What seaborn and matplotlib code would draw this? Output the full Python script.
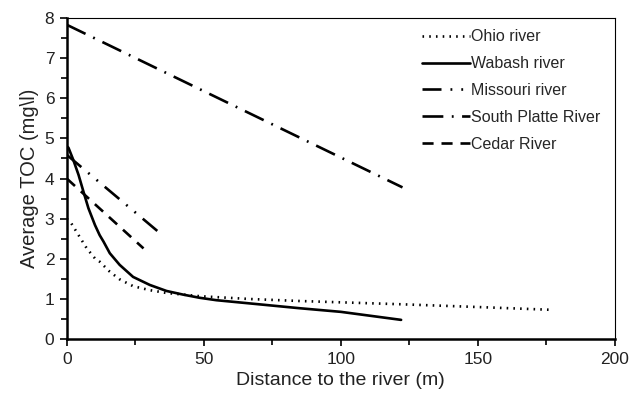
import numpy as np
import pandas as pd
import seaborn as sns
import matplotlib.pyplot as plt
from matplotlib.ticker import MultipleLocator

# values
rivers = ["Ohio river", "Wabash river", "Missouri river", "South Platte River", "Cedar River"]

ohio_x = [0, 1.6, 4.3, 7.3, 10.3, 12, 15.7, 19.3, 24.2, 30.3, 36.4, 48.5, 66.8, 85, 121.5, 150, 177]
ohio_y = [3.0, 2.89, 2.59, 2.26, 2.01, 1.93, 1.68, 1.49, 1.32, 1.22, 1.15, 1.07, 1.0, 0.95, 0.87, 0.8, 0.73]

wabash_x = [0, 0.6, 2.4, 4.3, 6.1, 7.9, 10.3, 12, 13.4, 15.7, 19.3, 24.2, 30.3, 36.4, 42.4,
            48.5, 54.6, 66.8, 85, 100, 122]
wabash_y = [4.8, 4.77, 4.46, 4.09, 3.67, 3.26, 2.84, 2.59, 2.43, 2.14, 1.85, 1.55, 1.35, 1.2, 1.11,
            1.03, 0.97, 0.89, 0.77, 0.68, 0.48]

missouri_x = [0, 34]
missouri_y = [4.59, 2.64]

platte_x = [0, 122.5]
platte_y = [7.83, 3.78]

cedar_x = [0, 28]
cedar_y = [4.0, 2.26]

frames = []
for name, xs, ys in zip(rivers,
                        [ohio_x, wabash_x, missouri_x, platte_x, cedar_x],
                        [ohio_y, wabash_y, missouri_y, platte_y, cedar_y]):
    frames.append(pd.DataFrame({"dist": xs, "toc": ys, "river": name}))
df = pd.concat(frames, ignore_index=True)

sns.set_style("ticks")
plt.rcParams["font.family"] = ["Liberation Sans", "DejaVu Sans"]

fig = plt.figure(figsize=(6.3, 3.99), dpi=100)
ax = fig.add_axes([0.106, 0.150, 0.870, 0.805])

dashes = {
    "Ohio river": (0.6, 1.95),
    "Wabash river": "",
    "Missouri river": (7.2, 3.4, 0.7, 3.4, 0.7, 3.4),
    "South Platte River": (7.9, 3.2, 0.7, 3.2),
    "Cedar River": (4.2, 3.0),
}
sns.lineplot(data=df, x="dist", y="toc", style="river", style_order=rivers,
             dashes=dashes, color="black", linewidth=1.9, sort=False,
             estimator=None, ax=ax)

ax.set_xlim(0, 200)
ax.set_ylim(0, 8)
ax.xaxis.set_major_locator(MultipleLocator(50))
ax.xaxis.set_minor_locator(MultipleLocator(25))
ax.yaxis.set_major_locator(MultipleLocator(1))
ax.yaxis.set_minor_locator(MultipleLocator(0.5))
ax.tick_params(which="both", direction="out", width=1.2, color="black",
               labelsize=12.5, labelcolor="#222222", pad=4)
ax.tick_params(which="major", length=5)
ax.tick_params(which="minor", length=4)
for s in ax.spines.values():
    s.set_color("black")
ax.spines["left"].set_linewidth(1.8)
ax.spines["bottom"].set_linewidth(1.8)
ax.spines["top"].set_linewidth(0.8)
ax.spines["right"].set_linewidth(0.8)

ax.set_xlabel("Distance to the river (m)", fontsize=14, color="#222222")
ax.set_ylabel("Average TOC (mg\\l)", fontsize=14.5, color="#222222")

sns.move_legend(ax, "upper right", bbox_to_anchor=(1.0, 1.01), frameon=False,
                title=None, fontsize=11.5, handlelength=3.0, handletextpad=0.1,
                labelspacing=0.75)

fig.savefig("out.png", dpi=100)
